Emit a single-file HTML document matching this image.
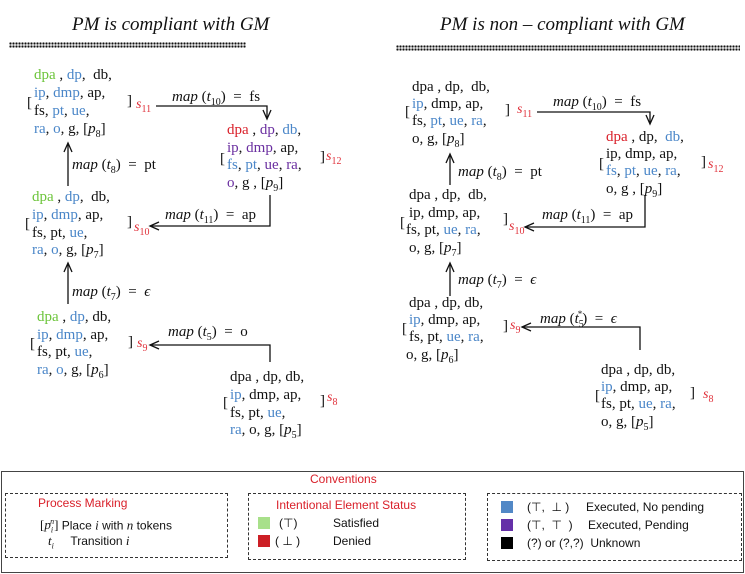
<!DOCTYPE html>
<html><head><meta charset="utf-8"><style>
body{margin:0;width:745px;height:574px;background:#fff;position:relative;overflow:hidden;font-family:"Liberation Serif",serif;color:#111}
.t{position:absolute;font-size:15px;line-height:18px;white-space:pre}
.g{color:#6cc43a}.b{color:#4a86c8}.p{color:#6a2fa0}.r{color:#d9202a}
.br{position:absolute;font-size:15px;line-height:18px}
.s{position:absolute;color:#e0303a;font-style:italic;font-size:14px;line-height:16px}
.s sub{font-style:normal;font-size:10px}
.m{position:absolute;font-size:15px;line-height:18px;white-space:pre}
.m i{font-style:italic}
.m sub{font-size:10px}
.ti{position:absolute;font-style:italic;font-size:19px;top:14px;white-space:pre}
.dots{position:absolute;height:6px;background-image:radial-gradient(circle,#111 1px,transparent 1.3px);background-size:3px 3px}
.lg{position:absolute;font-family:"Liberation Sans",sans-serif;font-size:12px;line-height:14px;white-space:pre}
.sq{position:absolute;width:12px;height:12px}
.db{position:absolute;border:1.3px dashed #333}
</style></head><body>
<div class="ti" style="left:72px">PM is compliant with GM</div>
<div class="ti" style="left:440px">PM is non – compliant with GM</div>
<div class="dots" style="left:9px;top:42px;width:237px"></div>
<div class="dots" style="left:396px;top:45px;width:344px"></div>

<svg width="745" height="470" style="position:absolute;left:0;top:0" fill="none" stroke="#111" stroke-width="1.3">
<polyline points="156,106 267,106 267,118"/><polyline points="263,110 267,119 271,110"/>
<polyline points="270,195 270,226 150,226"/><polyline points="159,222 150,226 159,230"/>
<line x1="68" y1="186" x2="68" y2="144"/><polyline points="64,152 68,143 72,152"/>
<line x1="68" y1="304" x2="68" y2="264"/><polyline points="64,272 68,263 72,272"/>
<polyline points="270,362 270,345 150,345"/><polyline points="159,341 150,345 159,349"/>
<polyline points="537,112 650,112 650,123"/><polyline points="646,115 650,124 654,115"/>
<polyline points="645,195 645,227 525,227"/><polyline points="534,223 525,227 534,231"/>
<line x1="450" y1="185" x2="450" y2="155"/><polyline points="446,163 450,154 454,163"/>
<line x1="450" y1="296" x2="450" y2="264"/><polyline points="446,272 450,263 454,272"/>
<polyline points="640,350 640,327 522,327"/><polyline points="531,323 522,327 531,331"/>
</svg>

<div class="t" style="left:34px;top:66px"><span class="g">dpa</span> , <span class="b">dp</span>,  db,</div>
<div class="t" style="left:34px;top:84px"><span class="b">ip</span>, <span class="b">dmp</span>, ap,</div>
<div class="t" style="left:34px;top:102px">fs, <span class="b">pt</span>, <span class="b">ue</span>,</div>
<div class="t" style="left:34px;top:120px"><span class="b">ra</span>, <span class="b">o</span>, g, [<i>p</i><sub style="font-size:10px">8</sub>]</div>
<div class="br" style="left:27px;top:94px">[</div><div class="br" style="left:127px;top:92px">]</div>
<div class="s" style="left:136px;top:97px">s<sub>11</sub></div>
<div class="m" style="left:172px;top:88px"><i>map</i> (<i>t</i><sub>10</sub>)  =  fs</div>
<div class="t" style="left:227px;top:121px"><span class="r">dpa</span> , <span class="p">dp</span>, <span class="b">db</span>,</div>
<div class="t" style="left:227px;top:139px"><span class="p">ip</span>, <span class="p">dmp</span>, ap,</div>
<div class="t" style="left:227px;top:156px"><span class="b">fs</span>, <span class="b">pt</span>, <span class="p">ue</span>, <span class="p">ra</span>,</div>
<div class="t" style="left:227px;top:174px"><span class="p">o</span>, g , [<i>p</i><sub style="font-size:10px">9</sub>]</div>
<div class="br" style="left:220px;top:150px">[</div><div class="br" style="left:320px;top:148px">]</div>
<div class="s" style="left:326px;top:149px">s<sub>12</sub></div>
<div class="m" style="left:165px;top:206px"><i>map</i> (<i>t</i><sub>11</sub>)  =  ap</div>
<div class="m" style="left:72px;top:156px"><i>map</i> (<i>t</i><sub>8</sub>)  =  pt</div>
<div class="t" style="left:32px;top:188px"><span class="g">dpa</span> , <span class="b">dp</span>,  db,</div>
<div class="t" style="left:32px;top:206px"><span class="b">ip</span>, <span class="b">dmp</span>, ap,</div>
<div class="t" style="left:32px;top:224px">fs, pt, <span class="b">ue</span>,</div>
<div class="t" style="left:32px;top:241px"><span class="b">ra</span>, <span class="b">o</span>, g, [<i>p</i><sub style="font-size:10px">7</sub>]</div>
<div class="br" style="left:25px;top:215px">[</div><div class="br" style="left:127px;top:213px">]</div>
<div class="s" style="left:134px;top:220px">s<sub>10</sub></div>
<div class="m" style="left:72px;top:283px"><i>map</i> (<i>t</i><sub>7</sub>)  =  <i>ϵ</i></div>
<div class="t" style="left:37px;top:308px"><span class="g">dpa</span> , <span class="b">dp</span>, db,</div>
<div class="t" style="left:37px;top:326px"><span class="b">ip</span>, <span class="b">dmp</span>, ap,</div>
<div class="t" style="left:37px;top:343px">fs, pt, <span class="b">ue</span>,</div>
<div class="t" style="left:37px;top:361px"><span class="b">ra</span>, <span class="b">o</span>, g, [<i>p</i><sub style="font-size:10px">6</sub>]</div>
<div class="br" style="left:30px;top:335px">[</div><div class="br" style="left:128px;top:333px">]</div>
<div class="s" style="left:137px;top:336px">s<sub>9</sub></div>
<div class="m" style="left:168px;top:323px"><i>map</i> (<i>t</i><sub>5</sub>)  =  o</div>
<div class="t" style="left:230px;top:368px">dpa , dp, db,</div>
<div class="t" style="left:230px;top:386px"><span class="b">ip</span>, dmp, ap,</div>
<div class="t" style="left:230px;top:404px">fs, pt, <span class="b">ue</span>,</div>
<div class="t" style="left:230px;top:421px"><span class="b">ra</span>, o, g, [<i>p</i><sub style="font-size:10px">5</sub>]</div>
<div class="br" style="left:223px;top:394px">[</div><div class="br" style="left:320px;top:392px">]</div>
<div class="s" style="left:327px;top:390px">s<sub>8</sub></div>

<div class="t" style="left:412px;top:78px">dpa , dp,  db,</div>
<div class="t" style="left:412px;top:95px"><span class="b">ip</span>, dmp, ap,</div>
<div class="t" style="left:412px;top:112px">fs, <span class="b">pt</span>, <span class="b">ue</span>, <span class="b">ra</span>,</div>
<div class="t" style="left:412px;top:130px">o, g, [<i>p</i><sub style="font-size:10px">8</sub>]</div>
<div class="br" style="left:405px;top:103px">[</div><div class="br" style="left:505px;top:101px">]</div>
<div class="s" style="left:517px;top:102px">s<sub>11</sub></div>
<div class="m" style="left:553px;top:93px"><i>map</i> (<i>t</i><sub>10</sub>)  =  fs</div>
<div class="t" style="left:606px;top:128px"><span class="r">dpa</span> , dp,  <span class="b">db</span>,</div>
<div class="t" style="left:606px;top:145px">ip, dmp, ap,</div>
<div class="t" style="left:606px;top:162px"><span class="b">fs</span>, <span class="b">pt</span>, <span class="b">ue</span>, <span class="b">ra</span>,</div>
<div class="t" style="left:606px;top:180px">o, g , [<i>p</i><sub style="font-size:10px">9</sub>]</div>
<div class="br" style="left:599px;top:155px">[</div><div class="br" style="left:701px;top:153px">]</div>
<div class="s" style="left:708px;top:157px">s<sub>12</sub></div>
<div class="m" style="left:542px;top:206px"><i>map</i> (<i>t</i><sub>11</sub>)  =  ap</div>
<div class="m" style="left:458px;top:163px"><i>map</i> (<i>t</i><sub>8</sub>)  =  pt</div>
<div class="t" style="left:409px;top:186px">dpa , dp,  db,</div>
<div class="t" style="left:409px;top:204px">ip, dmp, ap,</div>
<div class="t" style="left:406px;top:221px">fs, pt, <span class="b">ue</span>, <span class="b">ra</span>,</div>
<div class="t" style="left:409px;top:239px">o, g, [<i>p</i><sub style="font-size:10px">7</sub>]</div>
<div class="br" style="left:400px;top:214px">[</div><div class="br" style="left:503px;top:210px">]</div>
<div class="s" style="left:509px;top:219px">s<sub>10</sub></div>
<div class="m" style="left:458px;top:271px"><i>map</i> (<i>t</i><sub>7</sub>)  =  <i>ϵ</i></div>
<div class="t" style="left:409px;top:294px">dpa , dp, db,</div>
<div class="t" style="left:409px;top:311px"><span class="b">ip</span>, dmp, ap,</div>
<div class="t" style="left:409px;top:328px">fs, pt, <span class="b">ue</span>, <span class="b">ra</span>,</div>
<div class="t" style="left:406px;top:346px">o, g, [<i>p</i><sub style="font-size:10px">6</sub>]</div>
<div class="br" style="left:402px;top:320px">[</div><div class="br" style="left:503px;top:317px">]</div>
<div class="s" style="left:510px;top:318px">s<sub>9</sub></div>
<div class="m" style="left:540px;top:305px"><i>map</i> (<i>t</i><sub>5</sub><sup style="font-size:9px;margin-left:-6px">*</sup>)  =  <i>ϵ</i></div>
<div class="t" style="left:601px;top:361px">dpa , dp, db,</div>
<div class="t" style="left:601px;top:378px"><span class="b">ip</span>, dmp, ap,</div>
<div class="t" style="left:601px;top:395px">fs, pt, <span class="b">ue</span>, <span class="b">ra</span>,</div>
<div class="t" style="left:601px;top:413px">o, g, [<i>p</i><sub style="font-size:10px">5</sub>]</div>
<div class="br" style="left:595px;top:387px">[</div><div class="br" style="left:690px;top:384px">]</div>
<div class="s" style="left:703px;top:387px">s<sub>8</sub></div>

<div style="position:absolute;left:1px;top:471px;width:741px;height:100px;border:1.3px solid #444"></div>
<div class="lg r" style="left:310px;top:472px">Conventions</div>
<div class="db" style="left:5px;top:493px;width:221px;height:63px"></div>
<div class="db" style="left:248px;top:493px;width:216px;height:65px"></div>
<div class="db" style="left:487px;top:493px;width:253px;height:66px"></div>
<div class="lg r" style="left:38px;top:496px">Process Marking</div>
<div class="lg" style="left:40px;top:515px"><span style="font-family:'Liberation Serif',serif;font-size:13px">[<i>p</i><sub style="font-size:8px"><i>i</i></sub><sup style="font-size:8px;margin-left:-3px"><i>n</i></sup>]</span> Place <i style="font-family:'Liberation Serif',serif;font-size:13px">i</i> with <i style="font-family:'Liberation Serif',serif;font-size:13px">n</i> tokens</div>
<div class="lg" style="left:48px;top:534px"><i style="font-family:'Liberation Serif',serif;font-size:13px">t<sub style="font-size:8px">i</sub></i>     Transition <i style="font-family:'Liberation Serif',serif;font-size:13px">i</i></div>
<div class="lg r" style="left:276px;top:498px">Intentional Element Status</div>
<div class="sq" style="left:258px;top:517px;background:#a8e08a"></div>
<div class="lg" style="left:279px;top:516px">(⊤)</div><div class="lg" style="left:333px;top:516px">Satisfied</div>
<div class="sq" style="left:258px;top:535px;background:#cc1f25"></div>
<div class="lg" style="left:275px;top:534px">( ⊥ )</div><div class="lg" style="left:333px;top:534px">Denied</div>
<div class="sq" style="left:501px;top:501px;background:#5288c6"></div>
<div class="lg" style="left:527px;top:500px">(⊤,  ⊥ )</div><div class="lg" style="left:586px;top:500px">Executed, No pending</div>
<div class="sq" style="left:501px;top:519px;background:#6530a8"></div>
<div class="lg" style="left:527px;top:518px">(⊤,  ⊤  )</div><div class="lg" style="left:588px;top:518px">Executed, Pending</div>
<div class="sq" style="left:501px;top:537px;background:#000"></div>
<div class="lg" style="left:527px;top:536px">(?) or (?,?)  Unknown</div>
</body></html>
